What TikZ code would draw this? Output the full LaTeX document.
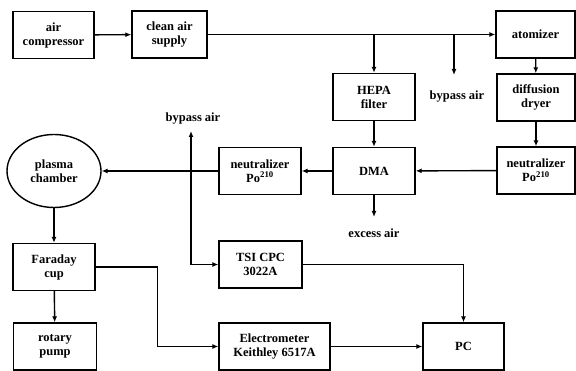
\documentclass[tikz,border=0pt]{standalone}
\usepackage{fontspec}
\setmainfont{Liberation Serif}
\usetikzlibrary{arrows.meta,positioning,calc,shapes.geometric}

\begin{document}
\begin{tikzpicture}[x=1pt,y=-1pt,>={Latex[length=6pt,width=5pt]},line width=1.4pt,
  every node/.style={font=\fontsize{12.5}{14}\selectfont\bfseries,align=center,inner sep=1pt},
  unit/.style={draw,rectangle,minimum height=47pt}]
  \useasboundingbox (0,0) rectangle (576,371);

  % air supply line
  \node[unit,minimum width=81pt] (comp) at (53.5,35) {air\\compressor};
  \node[unit,minimum width=75pt] (supply) at (169.5,34.5) {clean air\\supply};
  \node[unit,minimum width=79pt] (atom) at (535.5,34.5) {atomizer};
  \draw[->] (comp) -- (supply);
  \draw[->] (supply) -- (atom);

  % filter and dryer
  \node[unit,minimum width=82pt] (hepa) at (374,97) {HEPA\\filter};
  \node (bypassA) at (457,97) {bypass air};
  \coordinate (bypassAend) at (454,75);
  \node[unit,minimum width=78pt] (dryer) at (536,97.5) {diffusion\\dryer};
  \draw[->] (hepa.north |- supply.east) -- (hepa.north);
  \draw[->] (bypassAend |- supply.east) -- (bypassAend);
  \draw[->] (atom) -- (dryer);

  % classifier row
  \node[unit,minimum width=82pt] (dma) at (374,171) {DMA};
  \node[unit,minimum width=78pt] (neutR) at (536,170.5) {neutralizer\\Po$^{\mathbf{210}}$};
  \node[unit,minimum width=82pt] (neutL) at (260,171) {neutralizer\\Po$^{\mathbf{210}}$};
  \node[draw,ellipse,minimum width=94pt,minimum height=73pt] (plasma) at (54,171) {plasma\\chamber};
  \node (excess) at (374,233) {excess air};
  \coordinate (excessend) at (374,217);
  \draw[->] (dryer) -- (neutR);
  \draw[->] (hepa) -- (dma);
  \draw[->] (neutR) -- (dma);
  \draw[->] (dma) -- (neutL);
  \draw[->] (neutL) -- (plasma);
  \draw[->] (dma) -- (excessend);

  % detection
  \node (bypassB) at (193,119) {bypass air};
  \coordinate (bypassBend) at (191,131);
  \node[unit,minimum width=82pt] (faraday) at (54,267) {Faraday\\cup};
  \node[unit,minimum width=83pt] (pump) at (55,346.5) {rotary\\pump};
  \node[unit,minimum width=83pt] (tsi) at (260.5,264.5) {TSI CPC\\3022A};
  \node[unit,minimum width=111pt] (elec) at (274.5,346.5) {Electrometer\\Keithley 6517A};
  \node[unit,minimum width=81pt] (pc) at (463.5,346.5) {PC};
  \draw[->] (plasma) -- (faraday);
  \draw[->] (faraday) -- (pump);
  \draw[<->] (bypassBend) |- (tsi.west);
  \draw[->] (tsi.east) -| (pc.north);
  \draw[->] (faraday.east) -- ++(62,0) |- (elec.west);
  \draw[->] (elec) -- (pc);
\end{tikzpicture}
\end{document}
